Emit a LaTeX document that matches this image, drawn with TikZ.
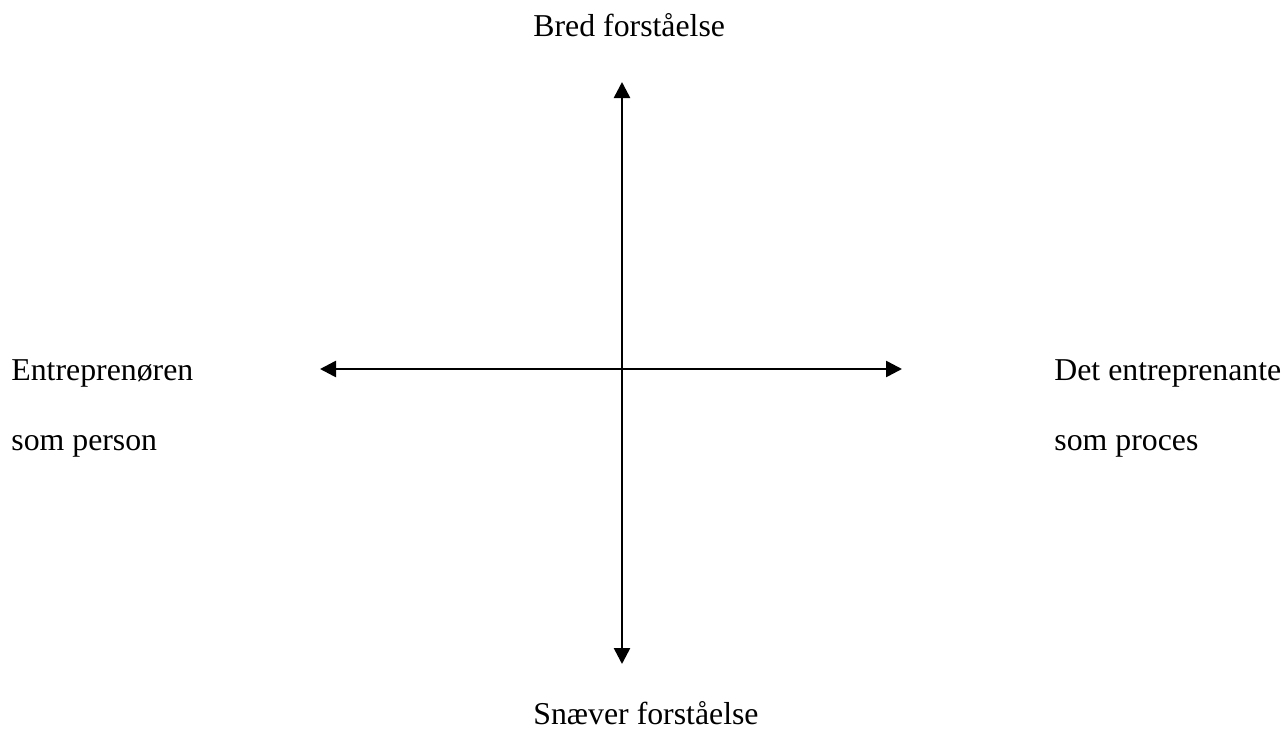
\documentclass[tikz,border=0pt]{standalone}
\usepackage{fontspec}
\setmainfont{Liberation Serif}
\usetikzlibrary{arrows.meta, positioning}
\tikzset{axistext/.style={anchor=base west, inner sep=0pt, font=\fontsize{15.9}{19}\selectfont}}
\tikzset{axisline/.style={line width=1.3pt, {Triangle[length=8pt,width=8pt]}-{Triangle[length=8pt,width=8pt]}}}

\begin{document}
\begin{tikzpicture}[x=0.5pt, y=-0.5pt]
	\useasboundingbox[fill=white] (0,0) rectangle (1285,729);
	
	%%% NODES %%%
	
	% AXIS ENDS
	\coordinate (top) at (622,82);
	\coordinate (bottom) at (622,664);
	\coordinate (left) at (320,369);
	\coordinate (right) at (902,369);
	
	% TEXTS
	\node[axistext] at (533,36.5) (broad) {Bred forståelse};
	\node[axistext] at (533,724) (narrow) {Snæver forståelse};
	\node[axistext] at (11,380) (person1) {Entreprenøren};
	\node[axistext] at (11,450) (person2) {som person};
	\node[axistext] at (1054,380) (process1) {Det entreprenante};
	\node[axistext] at (1054,450) (process2) {som proces};
	
	%%% ARROWS %%%
	\draw[axisline] (bottom) -- (top);
	\draw[axisline] (left) -- (right);
	
\end{tikzpicture}
\end{document}
